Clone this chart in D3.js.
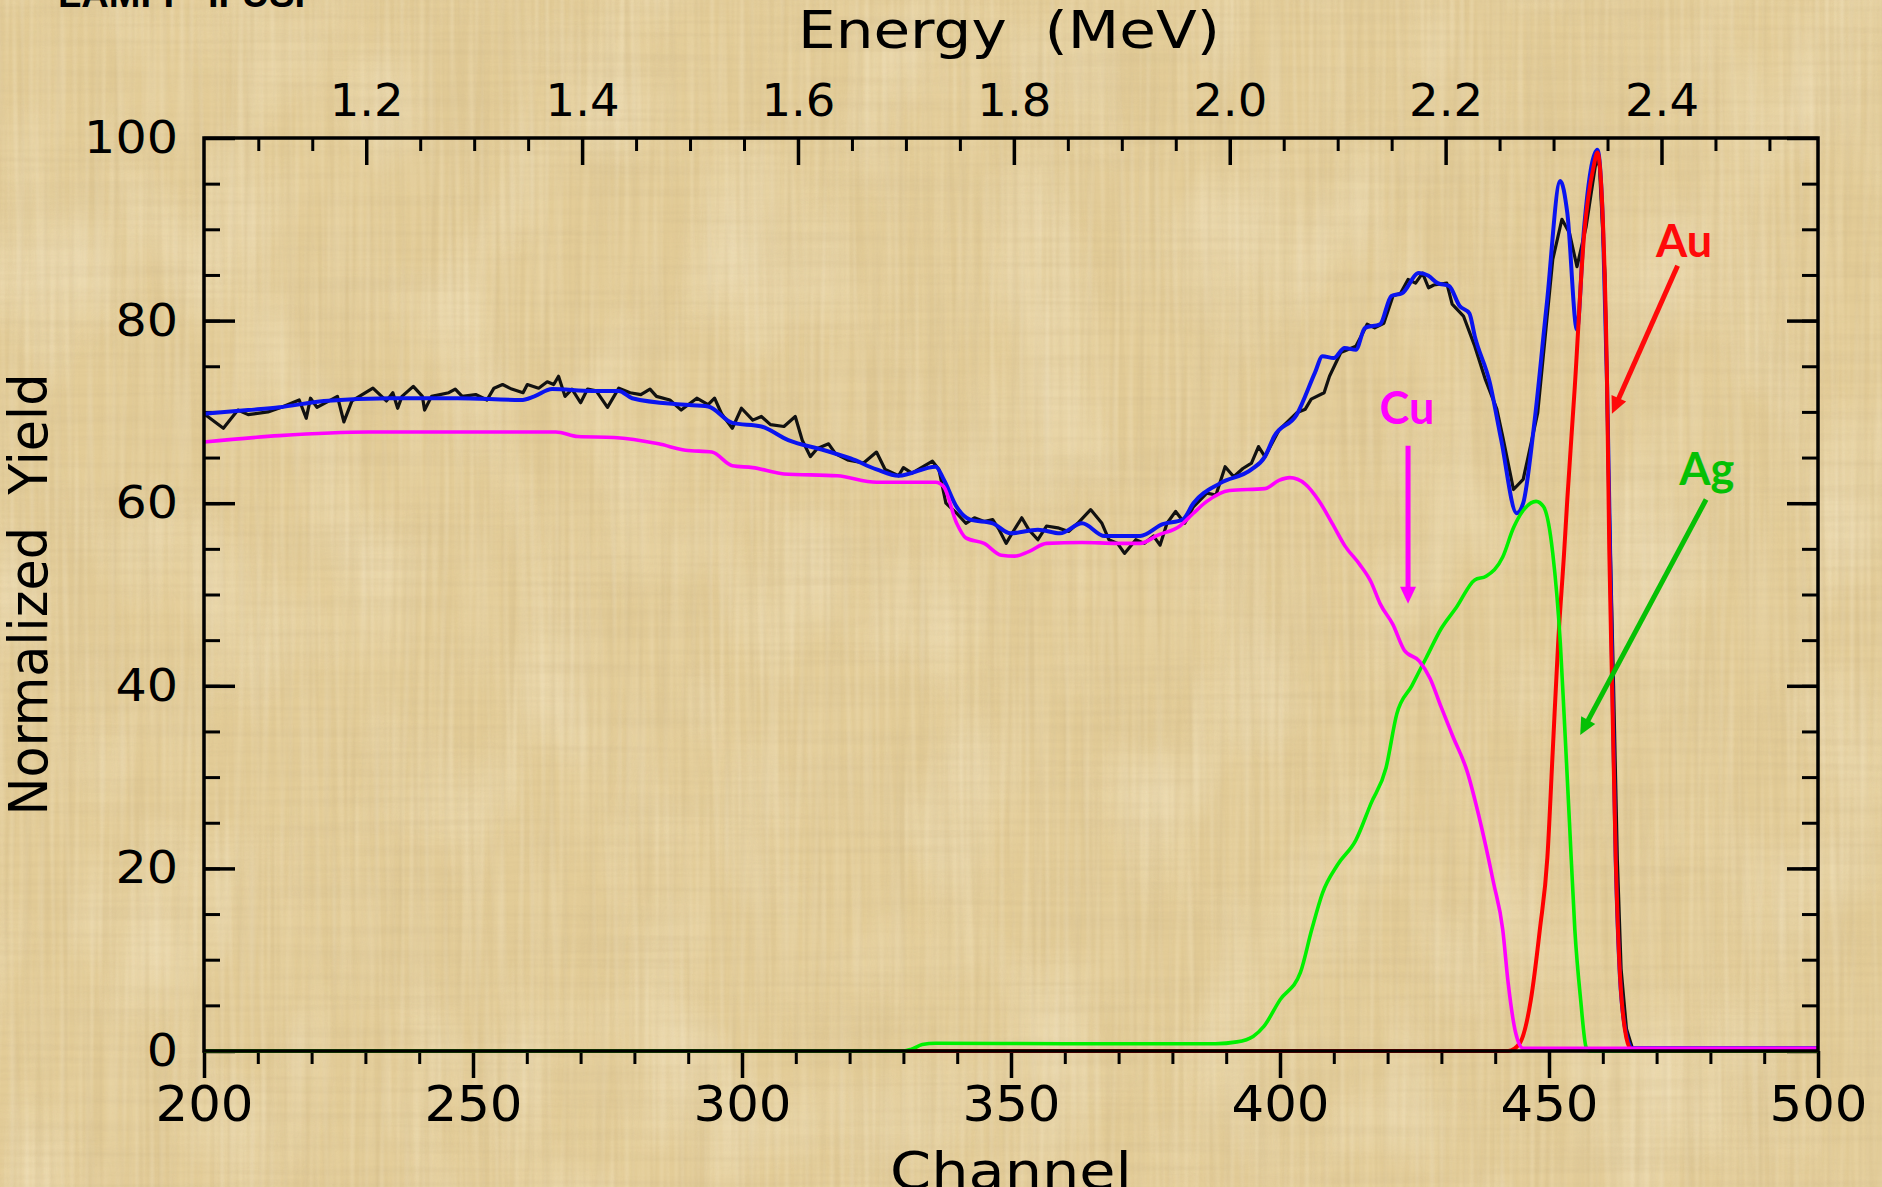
<!DOCTYPE html>
<html>
<head>
<meta charset="utf-8">
<script src="https://cdn.jsdelivr.net/npm/d3@7"></script>
<style>
  html, body { margin: 0; padding: 0; background: #e4cd99; overflow: hidden; }
  svg { display: block; }
</style>
</head>
<body>
<div id="spectrum"></div>
<script>

// RBS spectrum - normalized yield against channel, energy scale on top

// measured spectrum (black, noisy)
var dataCh = [200, 203.6, 206.3, 208.2, 211.9, 214.4, 217.7, 219, 219.8, 221, 224.8, 226, 227.5, 231.4, 233.9, 235.1, 236, 236.8, 238.9, 240.6, 241, 242.3, 245.5, 246.7, 248, 250.5, 252.6, 253.9, 255.5, 257.2, 259.3, 260.1, 262.2, 263.8, 265, 265.9, 267.1, 268.4, 270, 271.3, 272.9, 275, 277.1, 279.2, 281.2, 282.9, 284.1, 286.6, 288.7, 291.6, 293.7, 294.9, 296.2, 298.2, 299.9, 302, 303.6, 305.3, 307.8, 309.9, 311.2, 312.7, 314, 316.1, 317.4, 319.8, 322.6, 325, 326.6, 329.1, 330, 331.6, 335.4, 336.6, 337.9, 339.9, 341.6, 343.2, 345, 346.6, 347.8, 349.1, 350.4, 352, 353.3, 355, 356.6, 358.7, 360.7, 362.4, 364.8, 366.9, 368.2, 369.8, 371.1, 373.2, 374.8, 376.5, 377.7, 379, 380.6, 382.3, 383.9, 386.4, 388.1, 389.8, 391.4, 393.1, 394.7, 396, 397.2, 399.8, 403.1, 404.7, 405.8, 408.2, 409.2, 411.3, 414.1, 415.1, 416.2, 417.6, 419.3, 421, 422.4, 423.8, 425.2, 426.5, 427.6, 428.6, 431, 432, 434.1, 436.2, 438.2, 440.3, 441.4, 443.4, 445.2, 447.9, 450.7, 452.4, 453.8, 455.2, 456.9, 458.6, 459.3, 460.4, 461.1, 461.6, 462, 462.7, 463.4, 464.4, 465.5, 500];
var dataYield = [69.8, 68.2, 70.2, 69.7, 70.0, 70.5, 71.3, 69.3, 71.5, 70.5, 71.7, 68.9, 71.2, 72.6, 71.2, 72.1, 70.4, 71.7, 72.8, 71.7, 70.2, 71.7, 72.1, 72.5, 71.7, 71.9, 71.3, 72.6, 73.0, 72.5, 72.1, 73.0, 72.6, 73.3, 73.0, 73.9, 71.7, 72.5, 71.0, 72.5, 72.3, 70.5, 72.6, 72.1, 71.9, 72.5, 71.7, 71.3, 70.2, 71.5, 70.8, 71.5, 69.8, 68.2, 70.4, 69.1, 69.5, 68.6, 68.4, 69.5, 66.9, 65.1, 66.0, 66.5, 65.4, 64.7, 64.4, 65.6, 63.7, 63.0, 63.9, 63.3, 64.6, 63.7, 60.0, 58.9, 57.8, 58.4, 58.0, 58.2, 57.1, 55.6, 56.9, 58.4, 57.1, 56.0, 57.5, 57.3, 56.9, 57.8, 59.3, 57.8, 56.0, 55.6, 54.5, 56.0, 55.6, 56.4, 55.4, 57.8, 59.1, 57.8, 59.6, 61.1, 60.9, 64.0, 62.9, 63.8, 64.4, 66.2, 65.1, 68.0, 69.9, 70.3, 71.4, 72.1, 73.9, 76.5, 77.2, 78.3, 79.6, 79.2, 79.7, 82.7, 83.0, 84.5, 84.1, 85.2, 83.6, 83.9, 84.1, 81.8, 80.5, 77.2, 73.5, 70.3, 67.3, 61.5, 62.6, 69.9, 86.7, 91.1, 89.6, 85.9, 90.3, 96.9, 97.8, 85, 62, 50, 40, 21, 9, 2.4, 0.3, 0.3];

// simulated total (blue)
var fitCh = [200, 208.2, 214, 222.3, 234.7, 247.1, 258.9, 261.4, 264.7, 272.1, 277.1, 279.6, 288.7, 293.7, 298.2, 303.6, 308.6, 315.3, 320.2, 325, 329.1, 336, 337.5, 339.9, 342.4, 346.6, 349.9, 355, 359.1, 363.2, 367.4, 374, 378.2, 381.9, 383.9, 388.9, 394.7, 397.2, 398.9, 403.1, 406.5, 407.9, 410, 412, 414.1, 415.8, 418.6, 420.7, 422.7, 425.8, 427.6, 429.3, 431.4, 433.4, 435.2, 436.2, 439, 441.1, 444, 445.2, 447.2, 449.6, 452.1, 453.4, 455.2, 456.5, 459, 460, 460.8, 461.5, 462.4, 463.2, 464.3, 465.5, 500];
var fitYield = [69.8, 70.2, 70.5, 71.2, 71.5, 71.5, 71.3, 71.7, 72.5, 72.3, 72.3, 71.5, 70.8, 70.6, 68.8, 68.4, 66.9, 65.8, 64.9, 63.7, 63.0, 64.0, 62.6, 59.6, 58.2, 57.8, 56.7, 57.1, 56.7, 57.8, 56.4, 56.4, 57.7, 58.2, 60.0, 62.2, 63.7, 65.1, 67.3, 69.7, 74.3, 76.1, 75.9, 77.0, 76.8, 79.2, 79.6, 82.7, 83.0, 85.2, 84.9, 84.1, 83.8, 81.6, 80.8, 78.3, 73.2, 67.0, 58.9, 60.0, 68.4, 81.9, 95.3, 91.8, 79.0, 90.0, 98.7, 91, 72.8, 50, 21, 8, 2, 0.3, 0.3];

// copper contribution (magenta)
var cuCh = [200, 214, 230.6, 247.1, 265.4, 269.5, 276.2, 284.5, 289.5, 294.4, 298.2, 302, 307.8, 317.7, 325, 336, 337.5, 339.9, 341.6, 345, 348.2, 350.7, 353.3, 356.6, 363.2, 369.8, 374, 377.3, 381.4, 383.9, 386.4, 390.6, 397.2, 399.8, 401.8, 404.7, 407.2, 409.7, 412.1, 414.8, 416.9, 418.6, 421, 423.1, 425.9, 427.9, 430, 432.1, 434.8, 436.9, 439.7, 441.4, 442.4, 443.8, 445.2, 500];
var cuYield = [66.7, 67.4, 67.8, 67.8, 67.8, 67.3, 67.2, 66.5, 65.8, 65.6, 64.1, 63.9, 63.2, 63.0, 62.3, 62.3, 61.8, 57.8, 56.2, 55.6, 54.3, 54.2, 54.7, 55.6, 55.7, 55.6, 55.6, 56.5, 57.5, 58.9, 60.2, 61.4, 61.6, 62.5, 62.8, 62.1, 60.3, 57.8, 55.3, 53.3, 51.4, 49.0, 46.7, 43.9, 42.7, 40.8, 37.6, 34.5, 30.6, 25.9, 18.4, 13.3, 7.5, 2.0, 0.3, 0.3];

// silver contribution (green)
var agCh = [200, 330, 331.5, 333.5, 336, 360, 388, 392, 395, 397, 400, 403.8, 405.9, 407.9, 410.7, 414.1, 416.9, 419.7, 421.7, 424.5, 427.2, 430, 432.8, 436.2, 438.3, 441.4, 443.4, 445.2, 447.6, 449, 450.7, 452.1, 452.8, 453.8, 454.8, 455.9, 456.9, 457.5, 500];
var agYield = [0, 0, 0.2, 0.7, 0.85, 0.8, 0.8, 1.0, 1.6, 2.7, 5.6, 8.6, 13.3, 17.3, 20.4, 23.1, 27.1, 31.0, 36.9, 40.0, 43.1, 46.3, 48.6, 51.6, 52.0, 54.1, 57.3, 59.2, 60.2, 59.6, 54.5, 44.7, 36.9, 25.1, 13.3, 5.5, 0.4, 0, 0];

// gold contribution (red)
var auCh = [200, 442.4, 444.5, 446.6, 448.3, 449.7, 450.7, 451.7, 452.8, 453.4, 454.8, 456.5, 458.3, 459, 460, 460.8, 461.2, 461.7, 462.4, 463.1, 464.1, 465.2, 466, 500];
var auYield = [0, 0, 0.8, 5.5, 13.3, 21.2, 32.9, 44.7, 54.5, 60.4, 72.8, 89.2, 96.9, 98.4, 91.1, 72.8, 55, 40.8, 21.2, 9.4, 2.4, 0.2, 0, 0];

// axis ticks
var channelTicks = [200, 250, 300, 350, 400, 450, 500];
var yieldTicks = [0, 20, 40, 60, 80, 100];
var energyTicks = [1.2, 1.4, 1.6, 1.8, 2.0, 2.2, 2.4];
var energyRange = [1.0497, 2.545];   // energy at channel 200 and 500

// element labels + arrows (data coordinates)
var labelNames = ["Au", "Cu", "Ag"];
var labelCh = [475.1, 423.6, 479.3];
var labelYield = [87.0, 68.7, 62.0];
var arrowFromCh = [473.9, 423.8, 479.2];
var arrowFromYield = [86.0, 66.3, 60.4];
var arrowToCh = [461.7, 423.8, 455.8];
var arrowToYield = [69.8, 49.0, 34.6];
var labelColors = ["#ff0a0a", "#ff00ff", "#05c005"];


// set the dimensions and margins of the graph
var width = 1882,
    height = 1187;
var margin = {top: 138, right: 64, bottom: 136, left: 204};
var w = width - margin.left - margin.right,
    h = height - margin.top - margin.bottom;

var svg = d3.select("#spectrum")
    .append("svg")
    .attr("width", width)
    .attr("height", height);

// papyrus-like background: fine woven fibres, a little mottling
var defs = svg.append("defs");

function noiseFilter(id, freq, octaves, seed, rgb, gain, bias) {
    var f = defs.append("filter").attr("id", id)
        .attr("x", 0).attr("y", 0).attr("width", width).attr("height", height)
        .attr("filterUnits", "userSpaceOnUse");
    f.append("feTurbulence")
        .attr("type", "fractalNoise")
        .attr("baseFrequency", freq)
        .attr("numOctaves", octaves)
        .attr("seed", seed);
    f.append("feColorMatrix")
        .attr("type", "matrix")
        .attr("values", "0 0 0 0 " + rgb[0] + "  0 0 0 0 " + rgb[1] + "  0 0 0 0 " + rgb[2] + "  " + gain + " 0 0 0 " + bias);
}
noiseFilter("blotch", "0.01 0.006", 2, 2, [0.97, 0.91, 0.74], 1.8, -0.85);
noiseFilter("shade", "0.006 0.012", 2, 13, [0.72, 0.57, 0.31], 1.8, -0.85);
noiseFilter("fibV", "0.16 0.004", 2, 4, [0.60, 0.46, 0.24], 1.6, -0.62);
noiseFilter("fibH", "0.004 0.16", 2, 9, [0.60, 0.46, 0.24], 1.6, -0.62);
noiseFilter("fibL", "0.2 0.006", 1, 21, [0.98, 0.92, 0.76], 1.6, -0.62);

svg.append("rect").attr("width", width).attr("height", height).attr("fill", "#e3cc97");
svg.append("rect").attr("width", width).attr("height", height).attr("filter", "url(#blotch)").style("opacity", 0.45);
svg.append("rect").attr("width", width).attr("height", height).attr("filter", "url(#shade)").style("opacity", 0.35);
svg.append("rect").attr("width", width).attr("height", height).attr("filter", "url(#fibV)").style("opacity", 0.35);
svg.append("rect").attr("width", width).attr("height", height).attr("filter", "url(#fibH)").style("opacity", 0.3);
svg.append("rect").attr("width", width).attr("height", height).attr("filter", "url(#fibL)").style("opacity", 0.3);

// lab name in the corner (cut by the top edge)
svg.append("text")
    .attr("x", 58)
    .attr("y", 7)
    .attr("font-family", "Liberation Sans, Arial, sans-serif")
    .attr("font-weight", "bold")
    .attr("font-size", 38)
    .attr("textLength", 262)
    .attr("lengthAdjust", "spacingAndGlyphs")
    .attr("fill", "#000")
    .text("LAMFI - IFUSP");

var g = svg.append("g")
    .attr("transform", "translate(" + margin.left + "," + margin.top + ")");

// scales
var x = d3.scaleLinear().domain([200, 500]).range([0, w]);
var y = d3.scaleLinear().domain([0, 100]).range([h, 0]);
var e = d3.scaleLinear().domain(energyRange).range([0, w]);

var axisFont = "DejaVu Sans, Verdana, sans-serif";

function styleAxis(sel, width) {
    sel.select(".domain").remove();
    sel.selectAll(".tick line").attr("stroke", "#000").attr("stroke-width", width);
    sel.selectAll(".tick text").attr("fill", "#000").attr("font-family", axisFont);
}

// minor ticks
g.append("g")
    .attr("transform", "translate(0," + h + ")")
    .call(d3.axisBottom(x).tickValues(d3.range(210, 500, 10)).tickSize(13).tickFormat(""))
    .call(styleAxis, 3);
g.append("g")
    .call(d3.axisTop(e).tickValues(d3.range(1.1, 2.52, 0.05).filter(function(v) { return Math.round(v * 100) % 20 != 0; })).tickSize(-13).tickFormat(""))
    .call(styleAxis, 3);
g.append("g")
    .call(d3.axisLeft(y).tickValues(d3.range(5, 100, 5)).tickSize(-16).tickFormat(""))
    .call(styleAxis, 3);
g.append("g")
    .attr("transform", "translate(" + w + ",0)")
    .call(d3.axisRight(y).tickValues(d3.range(5, 100, 5)).tickSize(-16).tickFormat(""))
    .call(styleAxis, 3);

// major ticks + labels
var xAxis = g.append("g")
    .attr("transform", "translate(0," + h + ")")
    .call(d3.axisBottom(x).tickValues(channelTicks).tickSize(27).tickPadding(8).tickFormat(d3.format("d")))
    .call(styleAxis, 3.5);
xAxis.selectAll(".tick text")
    .attr("font-size", 49)
    .attr("textLength", function(d) { return String(d).length * 32.7; })
    .attr("lengthAdjust", "spacingAndGlyphs");

var eAxis = g.append("g")
    .call(d3.axisTop(e).tickValues(energyTicks).tickSize(-27).tickPadding(22).tickFormat(d3.format(".1f")))
    .call(styleAxis, 3.5);
eAxis.selectAll(".tick text")
    .attr("font-size", 44)
    .attr("textLength", 74)
    .attr("lengthAdjust", "spacingAndGlyphs");

var yAxis = g.append("g")
    .call(d3.axisLeft(y).tickValues(yieldTicks).tickSize(-31).tickPadding(26).tickFormat(d3.format("d")))
    .call(styleAxis, 3.5);
yAxis.selectAll(".tick text")
    .attr("font-size", 45)
    .attr("textLength", function(d) { return String(d).length * 31.3; })
    .attr("lengthAdjust", "spacingAndGlyphs");

g.append("g")
    .attr("transform", "translate(" + w + ",0)")
    .call(d3.axisRight(y).tickValues(yieldTicks).tickSize(-31).tickFormat(""))
    .call(styleAxis, 3.5);

// axis titles
g.append("text")
    .attr("x", w / 2 - 2)
    .attr("y", -90)
    .attr("text-anchor", "middle")
    .attr("font-family", axisFont)
    .attr("font-size", 51)
    .attr("textLength", 422)
    .attr("lengthAdjust", "spacingAndGlyphs")
    .style("white-space", "pre")
    .text("Energy  (MeV)");

g.append("text")
    .attr("x", w / 2)
    .attr("y", h + 138)
    .attr("text-anchor", "middle")
    .attr("font-family", axisFont)
    .attr("font-size", 51)
    .attr("textLength", 242)
    .attr("lengthAdjust", "spacingAndGlyphs")
    .text("Channel");

g.append("text")
    .attr("transform", "translate(" + (47 - margin.left) + "," + (h / 2) + ") rotate(-90)")
    .attr("text-anchor", "middle")
    .attr("font-family", axisFont)
    .attr("font-size", 54)
    .attr("textLength", 442)
    .attr("lengthAdjust", "spacingAndGlyphs")
    .style("white-space", "pre")
    .text("Normalized  Yield");

// spectrum lines
function series(ch, yl) {
    return ch.map(function(c, i) { return [c, yl[i]]; });
}

var lineJagged = d3.line()
    .x(function(d) { return x(d[0]); })
    .y(function(d) { return y(d[1]); });
var lineSmooth = d3.line()
    .curve(d3.curveMonotoneX)
    .x(function(d) { return x(d[0]); })
    .y(function(d) { return y(d[1]); });

var curves = [
    {pts: series(dataCh, dataYield), color: "#111111", width: 3.2, line: lineJagged},
    {pts: series(fitCh, fitYield), color: "#0a14f0", width: 4, line: lineSmooth},
    {pts: series(auCh, auYield), color: "#ff0000", width: 4, line: lineSmooth},
    {pts: series(agCh, agYield), color: "#00f000", width: 3.6, line: lineSmooth},
    {pts: series(cuCh, cuYield), color: "#ff00ff", width: 3.6, line: lineSmooth}
];

g.selectAll("path.spec")
    .data(curves)
    .enter()
    .append("path")
    .attr("class", "spec")
    .attr("d", function(d) { return d.line(d.pts); })
    .attr("fill", "none")
    .attr("stroke", function(d) { return d.color; })
    .attr("stroke-width", function(d) { return d.width; })
    .attr("stroke-linejoin", "round");

// frame
g.append("rect")
    .attr("width", w)
    .attr("height", h)
    .attr("fill", "none")
    .attr("stroke", "#000")
    .attr("stroke-width", 3.5);

// element labels with arrows
labelNames.forEach(function(name, i) {
    var x0 = x(arrowFromCh[i]), y0 = y(arrowFromYield[i]);
    var x1 = x(arrowToCh[i]), y1 = y(arrowToYield[i]);
    var dx = x1 - x0, dy = y1 - y0, len = Math.sqrt(dx * dx + dy * dy);
    var ux = dx / len, uy = dy / len;
    var head = 17, half = 8;
    var bx = x1 - ux * head, by = y1 - uy * head;

    g.append("line")
        .attr("x1", x0).attr("y1", y0)
        .attr("x2", bx + ux * 2).attr("y2", by + uy * 2)
        .attr("stroke", labelColors[i])
        .attr("stroke-width", 5);
    g.append("path")
        .attr("d", "M" + x1 + "," + y1 +
            "L" + (bx - uy * half) + "," + (by + ux * half) +
            "L" + (bx + uy * half) + "," + (by - ux * half) + "Z")
        .attr("fill", labelColors[i]);

    g.append("text")
        .attr("x", x(labelCh[i]))
        .attr("y", y(labelYield[i]))
        .attr("text-anchor", "middle")
        .attr("font-family", "Lato, Open Sans, sans-serif")
        .attr("font-weight", "bold")
        .attr("font-size", 45)
        .attr("fill", labelColors[i])
        .text(name);
});

</script>
</body>
</html>
